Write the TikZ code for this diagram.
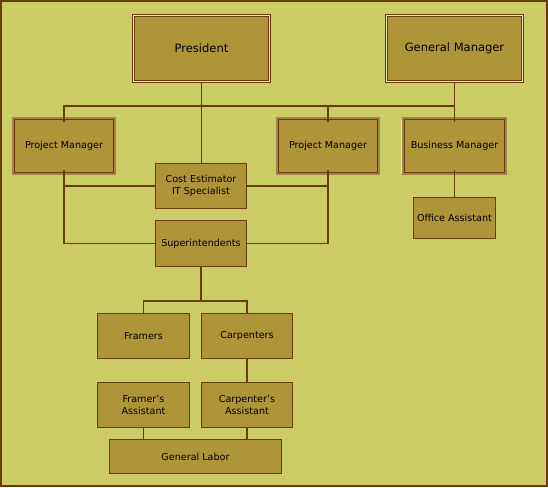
\documentclass[tikz,border=0pt]{standalone}
\usepackage{fontspec}
\setmainfont{DejaVu Sans}
\definecolor{bgc}{HTML}{CCCC66}
\definecolor{boxc}{HTML}{B0943A}
\definecolor{darkc}{HTML}{6B3A0A}
\definecolor{tanc}{HTML}{9E8246}
\definecolor{creamc}{HTML}{ECE6C0}
\tikzset{
  base/.style={fill=boxc, draw=darkc, inner sep=0pt, outer sep=0pt, text=black,
    font=\fontsize{9.6}{11.7}\selectfont, align=center},
  plainbox/.style={base, line width=1.2pt},
  topbox/.style={base, draw=darkc, double=creamc, double distance=1.4pt, line width=0.8pt,
    font=\fontsize{11.5}{13}\selectfont, minimum width=136pt, minimum height=66pt},
  mgrbox/.style={base, line width=1pt, preaction={draw=tanc, line width=4.6pt},
    minimum width=99pt, minimum height=53pt},
  conn/.style={draw=darkc, line width=1.2pt}
}
\begin{document}
\begin{tikzpicture}[x=1pt,y=-1pt]
\fill[bgc] (0,0) rectangle (548,487);
\draw[darkc, line width=1.6pt] (0.8,0.8) rectangle (547.2,486);
\useasboundingbox (0,0) rectangle (548,487);

% nodes
\node[topbox] (pres) at (201.5,48.5) {President};
\node[topbox] (gm) at (454.5,48.5) {General Manager};
\node[mgrbox] (pm1) at (64,146) {Project Manager};
\node[mgrbox] (pm2) at (328,146) {Project Manager};
\node[mgrbox, minimum width=100pt] (bm) at (454.5,146) {Business Manager};
\node[plainbox, minimum width=82pt, minimum height=41pt] (oa) at (454.5,218) {Office Assistant};
\node[plainbox, minimum width=91pt, minimum height=45pt] (ce) at (201,186) {Cost Estimator\\IT Specialist};
\node[plainbox, minimum width=91pt, minimum height=46pt] (sup) at (201,243.5) {Superintendents};
\node[plainbox, minimum width=92pt, minimum height=45pt] (fr) at (143.5,336) {Framers};
\node[plainbox, minimum width=91pt, minimum height=45pt] (ca) at (247,336) {Carpenters};
\node[plainbox, minimum width=92pt, minimum height=45pt] (fa) at (143.5,405) {Framer’s\\Assistant};
\node[plainbox, minimum width=91pt, minimum height=45pt] (caa) at (247,405) {Carpenter’s\\Assistant};
\node[plainbox, minimum width=172pt, minimum height=34pt] (gl) at (195.5,456.5) {General Labor};

% cream edge on business manager
\draw[creamc, line width=0.9pt] ([xshift=-2.6pt]bm.north west) -- ([xshift=-2.6pt]bm.south west);

% connectors
\coordinate (bus) at (0,106);
\draw[conn] (pres.south) -- (pres.south |- ce.north);
\draw[conn] ([yshift=-2.3pt]pm1.north) |- (bus -| gm.south) -- ([yshift=-2.3pt]bm.north);
\draw[conn] (gm.south) -- (bus -| gm.south);
\draw[conn] ([yshift=-2.3pt]pm2.north) -- (bus -| pm2.north);
\draw[conn] ([yshift=2.3pt]pm1.south) |- (sup.west);
\draw[conn] (ce.west) -- (ce.west -| pm1.south);
\draw[conn] (ce.east) -- (ce.east -| pm2.south);
\draw[conn] ([yshift=2.3pt]pm2.south) |- (sup.east);
\draw[conn] ([yshift=2.3pt]bm.south) -- (oa.north);
\coordinate (j) at (201,301);
\draw[conn] (sup.south) -- (j);
\draw[conn] (fr.north) |- (j) -| (ca.north);
\draw[conn] (ca.south) -- (caa.north);
\draw[conn] (fa.south) -- (fa.south |- gl.north);
\draw[conn] (caa.south) -- (caa.south |- gl.north);
\end{tikzpicture}
\end{document}
